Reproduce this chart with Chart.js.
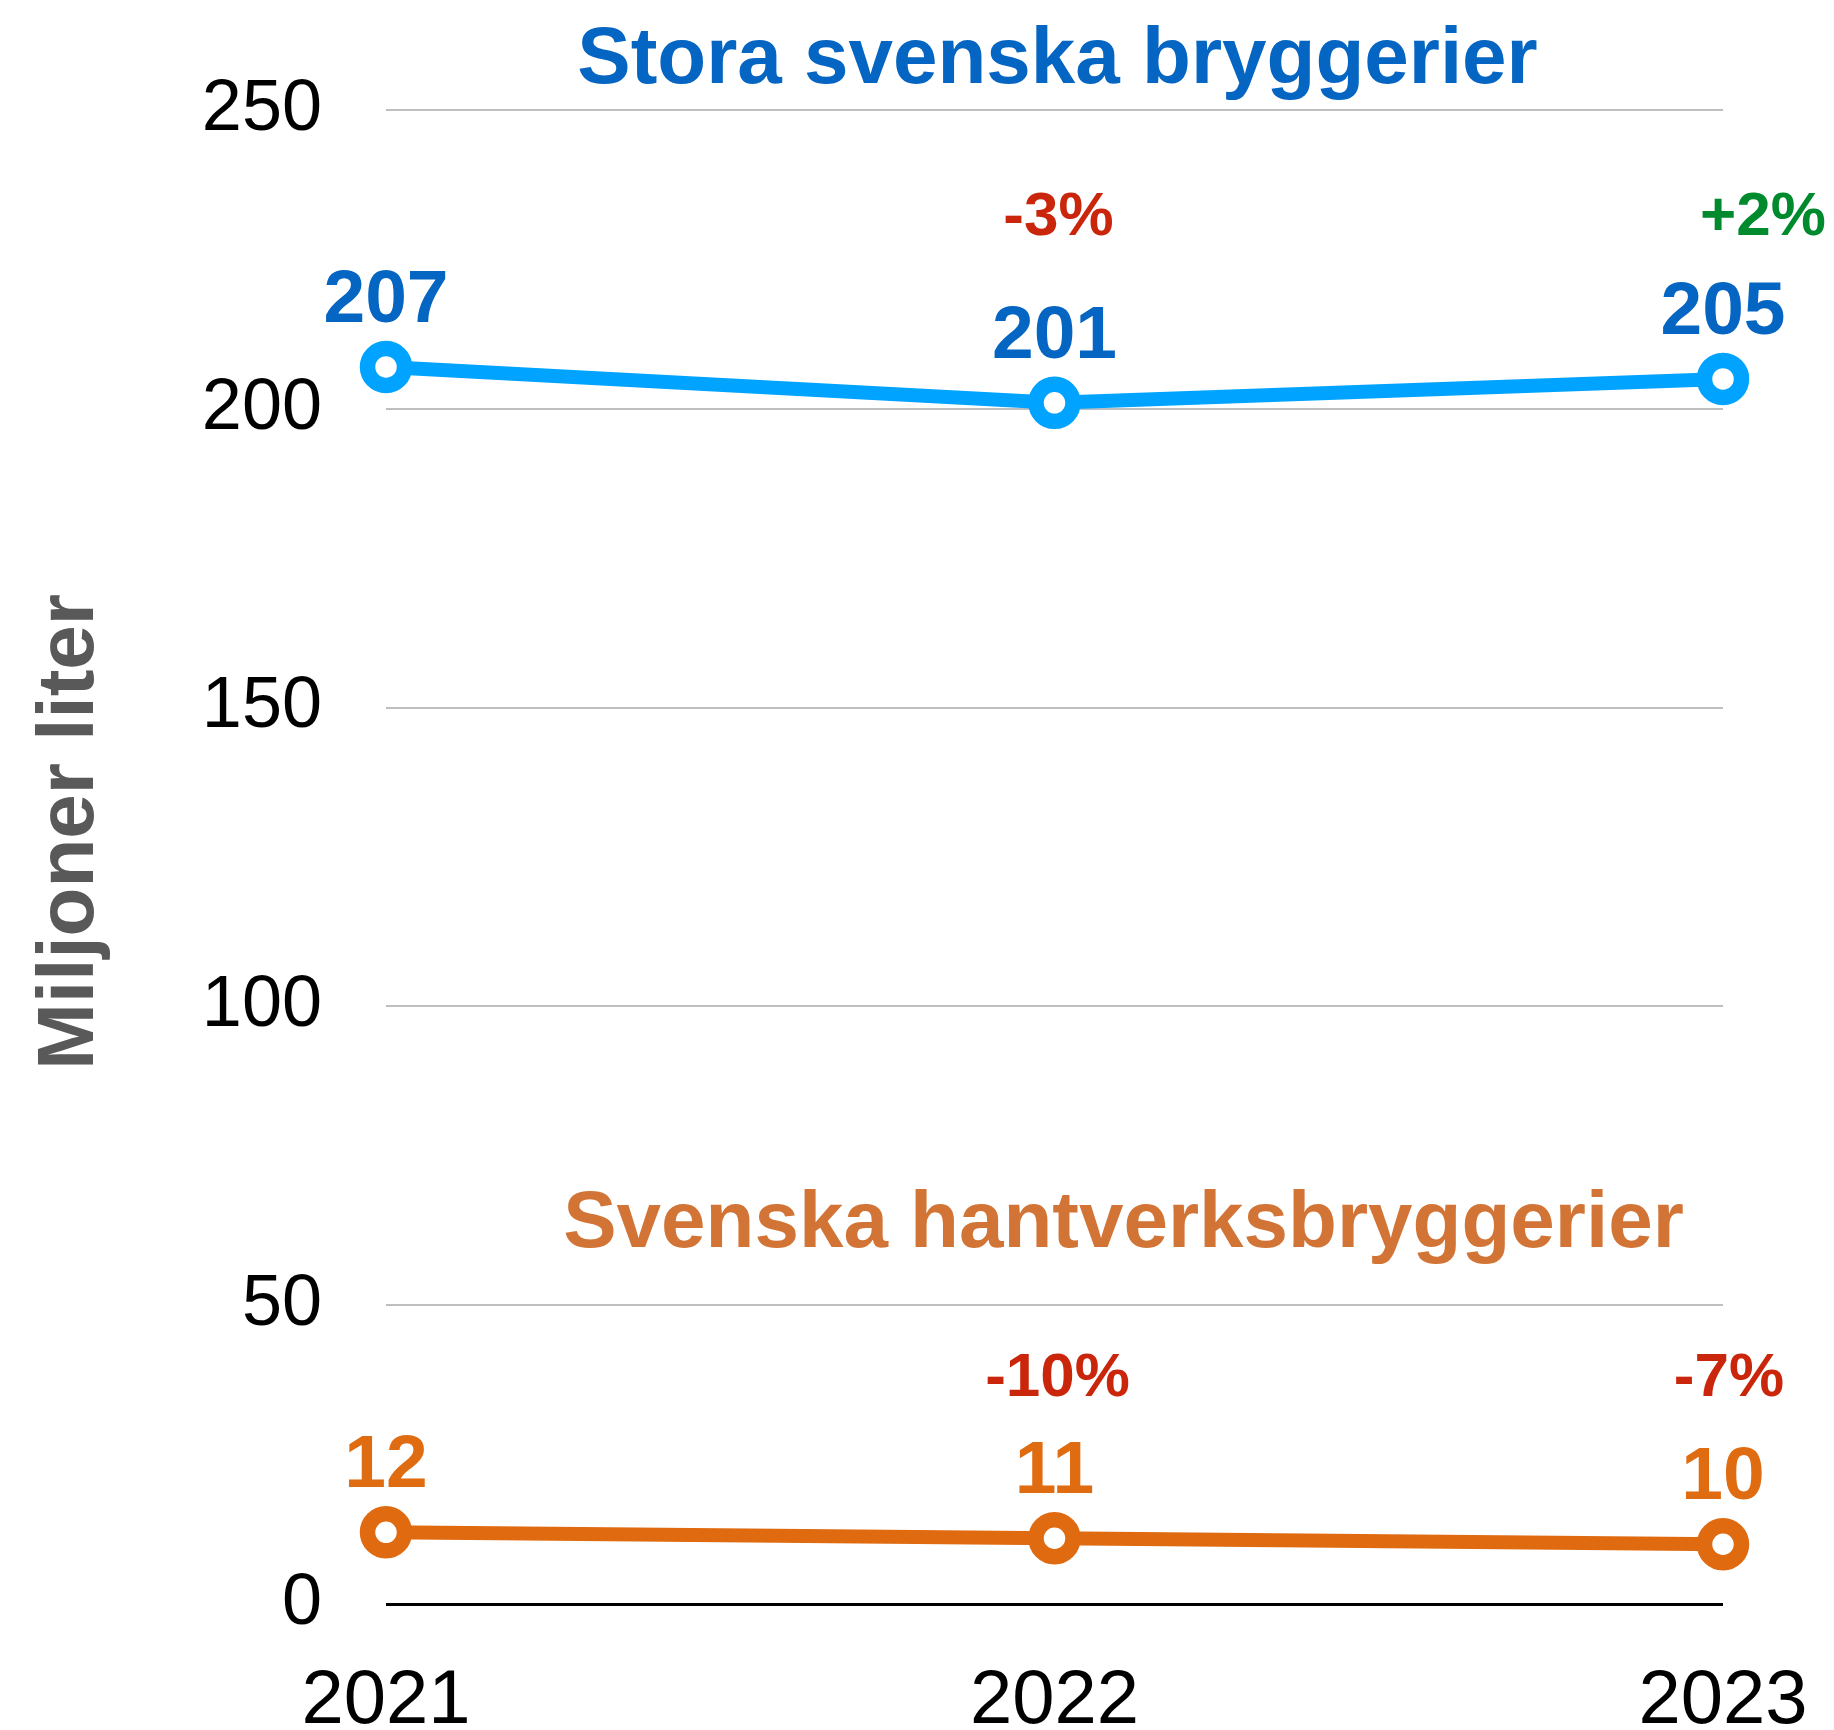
<!DOCTYPE html>
<html>
<head>
<meta charset="utf-8">
<title>Ölvolymer</title>
<script src="https://cdn.jsdelivr.net/npm/chart.js@4.4.0/dist/chart.umd.min.js"></script>
<style>
    html, body { margin: 0; padding: 0; background: #ffffff; }
    #wrap { width: 1834px; height: 1730px; }
</style>
</head>
<body>
<div id="wrap"><canvas id="beerChart" width="1834" height="1730"></canvas></div>
<script>
// data
var years = ['2021', '2022', '2023'];
var storaValues = [207, 201, 205];
var hantverkValues = [12, 11, 10];
var storaChange = ['', '-3%', '+2%'];
var hantverkChange = ['', '-10%', '-7%'];
var yTicks = [0, 50, 100, 150, 200, 250];

var FONT = '"Liberation Sans", Arial, sans-serif';
var RED = '#C9260B';
var GREEN = '#008A2E';

// draws axis title, series names, value labels and the percentage changes
var labelPlugin = {
    id: 'beerLabels',
    afterDatasetsDraw: function (chart) {
        var ctx = chart.ctx;
        var area = chart.chartArea;
        var yScale = chart.scales.y;
        var midX = (area.left + area.right) / 2;

        ctx.save();

        // y axis title, sits a bit above the middle of the axis
        ctx.save();
        ctx.translate(yScale.left + 71, yScale.getPixelForValue(129.2));
        ctx.rotate(-Math.PI / 2);
        ctx.textAlign = 'center';
        ctx.textBaseline = 'middle';
        ctx.font = 'bold 80px ' + FONT;
        ctx.fillStyle = '#595959';
        ctx.fillText('Miljoner liter', 0, 0);
        ctx.restore();

        ctx.textAlign = 'center';
        ctx.textBaseline = 'alphabetic';

        chart.data.datasets.forEach(function (ds, i) {
            var meta = chart.getDatasetMeta(i);

            // series name
            ctx.font = 'bold 80px ' + FONT;
            ctx.fillStyle = ds.titleColor;
            ctx.fillText(ds.label, midX + ds.titleDx, yScale.getPixelForValue(ds.titleAt));

            meta.data.forEach(function (pt, j) {
                ctx.font = 'bold 75px ' + FONT;
                ctx.fillStyle = ds.labelColor;
                ctx.fillText(String(ds.data[j]), pt.x, pt.y - 45);

                var ch = ds.changes[j];
                if (ch) {
                    ctx.font = 'bold 62px ' + FONT;
                    ctx.fillStyle = ch.charAt(0) === '+' ? GREEN : RED;
                    ctx.fillText(ch, pt.x + ds.changeDx[j], yScale.getPixelForValue(ds.changeAt));
                }
            });
        });
        ctx.restore();
    }
};

var ctx = document.getElementById('beerChart').getContext('2d');
var beerChart = new Chart(ctx, {
    type: 'line',
    data: {
        labels: years,
        datasets: [
            {
                label: 'Stora svenska bryggerier',
                data: storaValues,
                changes: storaChange,
                changeDx: [0, 4, 40],
                changeAt: 229,
                titleAt: 254.6,
                titleDx: 3,
                titleColor: '#0565C2',
                labelColor: '#0565C2',
                borderColor: '#00A3FF',
                borderWidth: 14,
                pointRadius: 18.5,
                pointHoverRadius: 18.5,
                pointBorderWidth: 15.5,
                pointBackgroundColor: '#ffffff',
                pointBorderColor: '#00A3FF',
                tension: 0,
                clip: false
            },
            {
                label: 'Svenska hantverksbryggerier',
                data: hantverkValues,
                changes: hantverkChange,
                changeDx: [0, 3, 6],
                changeAt: 34.8,
                titleAt: 59.7,
                titleDx: 69,
                titleColor: '#D27435',
                labelColor: '#E06C12',
                borderColor: '#DF6A10',
                borderWidth: 14,
                pointRadius: 18.5,
                pointHoverRadius: 18.5,
                pointBorderWidth: 15.5,
                pointBackgroundColor: '#ffffff',
                pointBorderColor: '#DF6A10',
                tension: 0,
                clip: false
            }
        ]
    },
    options: {
        responsive: false,
        animation: false,
        layout: {
            padding: { top: 110, right: 111, left: 0, bottom: 0 }
        },
        plugins: {
            legend: { display: false },
            tooltip: { enabled: false },
            title: { display: false }
        },
        scales: {
            x: {
                grid: { display: false },
                border: { display: false },
                ticks: {
                    color: '#000000',
                    font: { family: FONT, size: 76 },
                    padding: 44,
                    maxRotation: 0
                },
                afterFit: function (scale) {
                    scale.height = 126;
                    scale.paddingLeft = 0;
                    scale.paddingRight = 0;
                }
            },
            y: {
                min: 0,
                max: 250,
                afterBuildTicks: function (scale) {
                    scale.ticks = yTicks.map(function (v) { return { value: v }; });
                },
                grid: {
                    drawTicks: false,
                    color: function (c) { return c.tick && c.tick.value === 0 ? '#000000' : '#BFBFBF'; },
                    lineWidth: function (c) { return c.tick && c.tick.value === 0 ? 3 : 2; }
                },
                border: { display: false },
                ticks: {
                    color: '#000000',
                    font: { family: FONT, size: 72 },
                    padding: 64
                },
                title: { display: false },
                afterFit: function (scale) {
                    scale.width = 386;
                }
            }
        }
    },
    plugins: [labelPlugin]
});
</script>
</body>
</html>
